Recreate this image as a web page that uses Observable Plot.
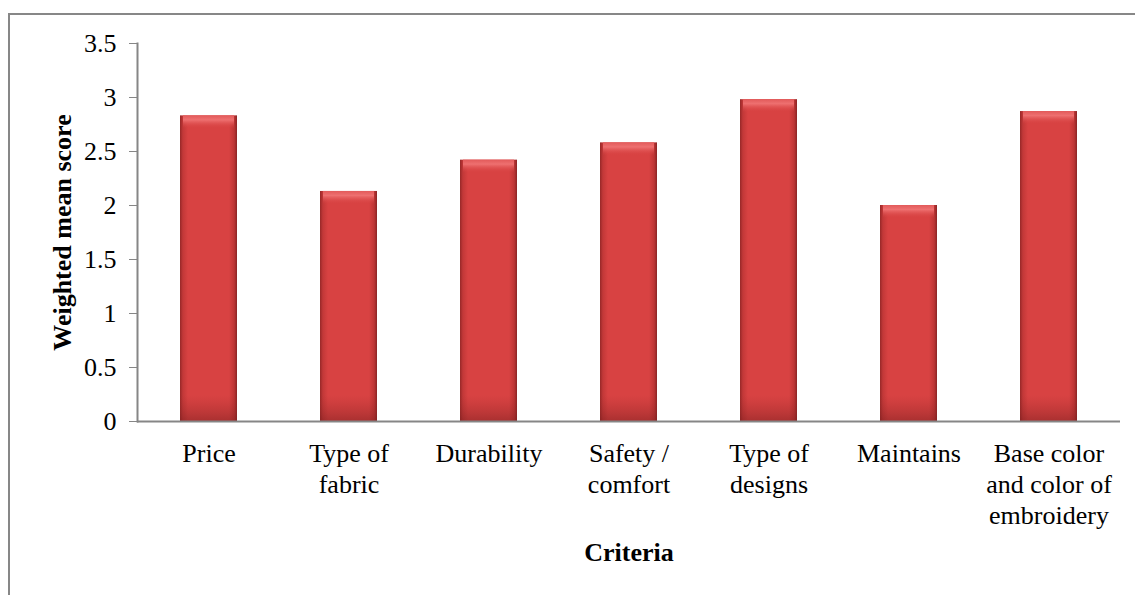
<!DOCTYPE html>
<html>
<head>
<meta charset="utf-8">
<script src="https://cdn.jsdelivr.net/npm/d3@7"></script>
<script src="https://cdn.jsdelivr.net/npm/@observablehq/plot@0.6"></script>
<style>
  html, body { margin: 0; padding: 0; background: #fff; overflow: hidden; }
  #wrap { position: relative; width: 1135px; height: 595px; }
  #border { position: absolute; left: 8px; top: 13px; width: 2000px; height: 2000px;
            border-left: 2px solid #878787; border-top: 2px solid #878787; pointer-events: none; }
</style>
</head>
<body>
<div id="wrap"><div id="border"></div></div>
<script>
const categories = ["Price", "Type of fabric", "Durability", "Safety / comfort", "Type of designs", "Maintains", "Base color and color of embroidery"];
const tickLabels = ["Price", "Type of\nfabric", "Durability", "Safety /\ncomfort", "Type of\ndesigns", "Maintains", "Base color\nand color of\nembroidery"];
const values = [2.83, 2.13, 2.42, 2.58, 2.98, 2.00, 2.87];
const yTicks = [0, 0.5, 1, 1.5, 2, 2.5, 3, 3.5];

const data = categories.map((c, i) => ({category: c, value: values[i]}));
const labelOf = new Map(categories.map((c, i) => [c, tickLabels[i]]));

const defs = () => {
  const d = d3.create("svg:defs");
  const body = d.append("linearGradient").attr("id", "barBody").attr("x1", 0).attr("x2", 1).attr("y1", 0).attr("y2", 0);
  [[0, "#972828"], [0.05, "#c23838"], [0.14, "#d84242"], [0.86, "#d84242"], [0.95, "#bd3535"], [1, "#8a2424"]]
    .forEach(([o, c]) => body.append("stop").attr("offset", o).attr("stop-color", c));
  const cap = d.append("linearGradient").attr("id", "barCap").attr("x1", 0).attr("x2", 0).attr("y1", 0).attr("y2", 1);
  [[0, "#e25a5a", 1], [0.35, "#ee7070", 1], [1, "#d84242", 0]]
    .forEach(([o, c, a]) => cap.append("stop").attr("offset", o).attr("stop-color", c).attr("stop-opacity", a));
  const bottom = d.append("linearGradient").attr("id", "barBottom").attr("x1", 0).attr("x2", 0).attr("y1", 0).attr("y2", 1);
  [[0, "#a02c2c", 0], [1, "#7a1e1e", 0.5]]
    .forEach(([o, c, a]) => bottom.append("stop").attr("offset", o).attr("stop-color", c).attr("stop-opacity", a));
  const f = d.append("filter").attr("id", "shadow").attr("x", "-20%").attr("y", "-20%").attr("width", "150%").attr("height", "150%");
  f.append("feDropShadow").attr("dx", 2).attr("dy", 1).attr("stdDeviation", 1.5).attr("flood-color", "#000").attr("flood-opacity", 0.3);
  return d.node();
};

const chart = Plot.plot({
  width: 1135,
  height: 595,
  marginLeft: 137,
  marginRight: 15,
  marginTop: 43,
  marginBottom: 174,
  style: {fontFamily: "'Liberation Serif', 'Times New Roman', serif", fontSize: "26px", color: "#000", background: "transparent", overflow: "visible"},
  x: {domain: categories, paddingInner: 0.59, paddingOuter: 0.295},
  y: {domain: [0, 3.5]},
  marks: [
    defs,
    Plot.barY(data, {x: "category", y: "value", fill: "url(#barBody)", ariaLabel: "bar-body"}),
    Plot.barY(data, {x: "category", y1: "value", y2: "value", insetBottom: -13, insetLeft: 3, insetRight: 3, fill: "url(#barCap)"}),
    Plot.barY(data, {x: "category", y1: 0, y2: 0, insetTop: -26, fill: "url(#barBottom)"}),
    Plot.ruleY([0], {stroke: "#868686", strokeWidth: 2}),
    Plot.frame({anchor: "left", stroke: "#868686", strokeWidth: 2}),
    Plot.axisY({ticks: yTicks, tickFormat: d => String(d), tickSize: 8, tickPadding: 13, stroke: "#868686",
                label: "Weighted mean score", labelAnchor: "center", labelOffset: 85, labelArrow: "none"}),
    Plot.axisX({tickSize: 0, tickPadding: 18, tickFormat: d => labelOf.get(d), lineHeight: 1.2,
                label: "Criteria", labelAnchor: "center", labelOffset: 139, labelArrow: "none"})
  ]
});

d3.select(chart).selectAll('g[aria-label="bar-body"]').attr("filter", "url(#shadow)");
d3.select(chart).selectAll('g[aria-label="y-axis label"] text, g[aria-label="x-axis label"] text').attr("font-weight", "bold");
d3.select(chart).selectAll('g[aria-label="y-axis tick label"], g[aria-label="x-axis tick label"]').attr("fill", "#000");
document.getElementById("wrap").prepend(chart);
</script>
</body>
</html>
